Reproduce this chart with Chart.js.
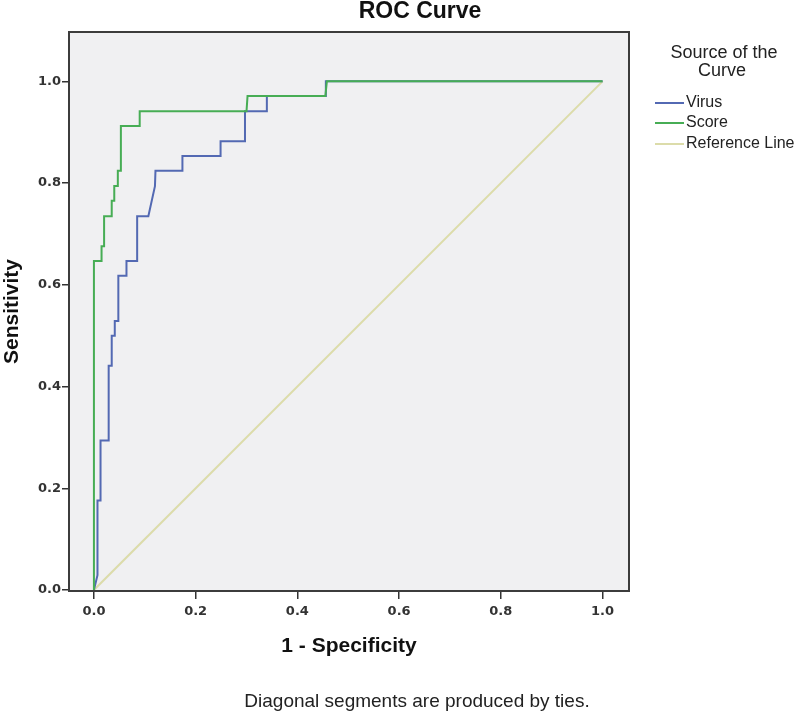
<!DOCTYPE html>
<html>
<head>
<meta charset="utf-8">
<script src="https://cdn.jsdelivr.net/npm/chart.js@4"></script>
<style>
  body { margin: 0; background: #fff; }
</style>
</head>
<body>
<canvas id="roc" width="800" height="717"></canvas>
<script>
// ROC coordinates (1 - specificity, sensitivity)
const virusFpr  = [0, 0.007, 0.007, 0.013, 0.013, 0.029, 0.029, 0.035, 0.035, 0.041, 0.041, 0.048, 0.048, 0.064, 0.064, 0.085, 0.085, 0.107, 0.120, 0.121, 0.174, 0.174, 0.249, 0.249, 0.297, 0.297, 0.340, 0.340, 0.456, 0.456, 1];
const virusSens = [0, 0.029, 0.176, 0.176, 0.294, 0.294, 0.441, 0.441, 0.500, 0.500, 0.529, 0.529, 0.618, 0.618, 0.647, 0.647, 0.735, 0.735, 0.794, 0.824, 0.824, 0.853, 0.853, 0.882, 0.882, 0.941, 0.941, 0.971, 0.971, 1, 1];

const scoreFpr  = [0, 0, 0.015, 0.015, 0.020, 0.020, 0.035, 0.035, 0.040, 0.040, 0.047, 0.047, 0.053, 0.053, 0.090, 0.090, 0.300, 0.302, 0.455, 0.458, 1];
const scoreSens = [0, 0.647, 0.647, 0.676, 0.676, 0.735, 0.735, 0.765, 0.765, 0.794, 0.794, 0.824, 0.824, 0.912, 0.912, 0.941, 0.941, 0.971, 0.971, 1, 1];

const refFpr  = [0, 1];
const refSens = [0, 1];

const tickValues = [0, 0.2, 0.4, 0.6, 0.8, 1.0];

const seriesNames  = ["Virus", "Score", "Reference Line"];
const seriesColors = ["#5369b3", "#47ad55", "#dcdcaa"];

function toPoints(xs, ys) {
  return xs.map((x, i) => ({ x: x, y: ys[i] }));
}

const sans = "'Liberation Sans', Arial, sans-serif";

const rocFrame = {
  id: "rocFrame",
  beforeDraw(chart) {
    const { ctx, chartArea: a } = chart;
    ctx.save();
    ctx.fillStyle = "#ffffff";
    ctx.fillRect(0, 0, chart.width, chart.height);
    ctx.fillStyle = "#f0f0f2";
    ctx.fillRect(a.left, a.top, a.right - a.left, a.bottom - a.top);
    ctx.restore();
  },
  afterDatasetsDraw(chart) {
    const { ctx, chartArea: a } = chart;
    ctx.save();
    ctx.strokeStyle = "#3c3c3c";
    ctx.lineWidth = 2;
    ctx.strokeRect(a.left, a.top, a.right - a.left, a.bottom - a.top);
    ctx.restore();
  },
  afterDraw(chart) {
    const ctx = chart.ctx;
    ctx.save();
    ctx.fillStyle = "#111";
    ctx.textAlign = "center";
    ctx.textBaseline = "middle";
    ctx.font = "bold 23px " + sans;
    ctx.fillText("ROC Curve", 420, 12);

    ctx.font = "19px " + sans;
    ctx.textBaseline = "alphabetic";
    ctx.fillStyle = "#222";
    ctx.fillText("Diagonal segments are produced by ties.", 417, 707);

    // legend
    ctx.font = "18px " + sans;
    ctx.textBaseline = "middle";
    ctx.fillText("Source of the", 724, 53);
    ctx.fillText("Curve", 722, 71);
    ctx.textAlign = "left";
    ctx.font = "16px " + sans;
    const rows = [103, 123, 144];
    seriesNames.forEach((name, i) => {
      ctx.strokeStyle = seriesColors[i];
      ctx.lineWidth = 2;
      ctx.beginPath();
      ctx.moveTo(655, rows[i]);
      ctx.lineTo(684, rows[i]);
      ctx.stroke();
      ctx.fillText(name, 686, rows[i]);
    });
    ctx.restore();
  }
};

function fixedTicks(scale) {
  scale.ticks = tickValues.map(v => ({ value: v }));
}

const tickFont = { family: "'DejaVu Sans', sans-serif", size: 13, weight: "bold" };

new Chart(document.getElementById("roc"), {
  type: "scatter",
  data: {
    datasets: [
      { label: seriesNames[0], data: toPoints(virusFpr, virusSens), borderColor: seriesColors[0], order: 2 },
      { label: seriesNames[1], data: toPoints(scoreFpr, scoreSens), borderColor: seriesColors[1], order: 1 },
      { label: seriesNames[2], data: toPoints(refFpr, refSens), borderColor: seriesColors[2], order: 3 }
    ].map(d => Object.assign(d, { showLine: true, pointRadius: 0, borderWidth: 2, tension: 0, fill: false }))
  },
  options: {
    responsive: false,
    animation: false,
    events: [],
    layout: { padding: { top: 32, right: 171, bottom: 58, left: 0 } },
    plugins: {
      legend: { display: false },
      tooltip: { enabled: false }
    },
    scales: {
      x: {
        type: "linear",
        min: -0.049,
        max: 1.052,
        afterBuildTicks: fixedTicks,
        afterFit(scale) { scale.height = 68; },
        border: { display: false },
        grid: { drawOnChartArea: false, drawTicks: true, tickLength: 8, color: "#333", lineWidth: 1.5 },
        ticks: {
          padding: 5,
          color: "#333",
          font: tickFont,
          callback: v => v.toFixed(1),
          maxRotation: 0
        },
        title: {
          display: true,
          text: "1 - Specificity",
          color: "#111",
          padding: 0,
          font: { family: sans, size: 21, weight: "bold" }
        }
      },
      y: {
        type: "linear",
        min: -0.002,
        max: 1.097,
        afterBuildTicks: fixedTicks,
        afterFit(scale) { scale.width = 69; },
        border: { display: false },
        grid: { drawOnChartArea: false, drawTicks: true, tickLength: 7, color: "#333", lineWidth: 1.5 },
        ticks: {
          padding: 1,
          color: "#333",
          font: tickFont,
          callback: v => v.toFixed(1)
        },
        title: {
          display: true,
          text: "Sensitivity",
          color: "#111",
          padding: 0,
          font: { family: sans, size: 21, weight: "bold" }
        }
      }
    }
  },
  plugins: [rocFrame]
});
</script>
</body>
</html>
